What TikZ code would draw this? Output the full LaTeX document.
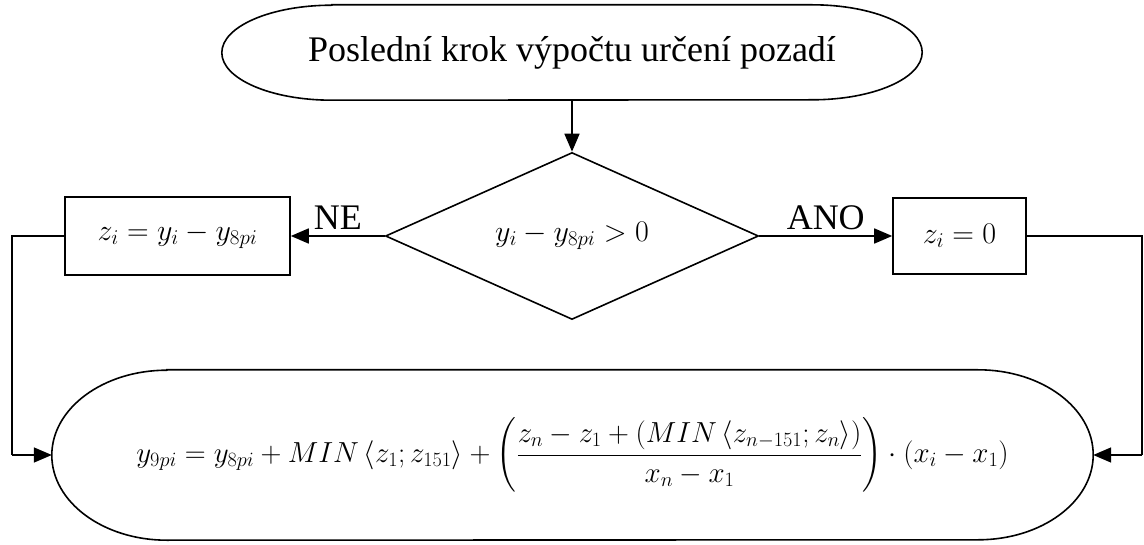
\RequirePackage{fix-cm}
\documentclass[tikz,border=0pt]{standalone}
\usepackage{amsmath}
\usepackage{fontspec}
\setmainfont{Liberation Serif}
\usepackage{tikz}
\usetikzlibrary{arrows.meta,shapes.geometric}

% outline with elliptic ends round a node: name, x radius, y radius
\newcommand{\ovaloutline}[3]{%
  \draw[line width=1.6pt] ([xshift=#2]#1.north west) -- ([xshift=-#2]#1.north east)
    arc[start angle=90, end angle=-90, x radius=#2, y radius=#3]
    -- ([xshift=#2]#1.south west)
    arc[start angle=270, end angle=90, x radius=#2, y radius=#3] -- cycle;}

\begin{document}
\begin{tikzpicture}[
x=1pt, y=-1pt,
font=\fontsize{36}{42}\selectfont,
formula/.style={font=\fontsize{30}{36}\selectfont},
flow/.style={line width=1.6pt,-{Triangle[length=18pt,width=15pt]}},
line/.style={line width=1.6pt},
terminal/.style={inner sep=0pt},
decision/.style={diamond,draw,line width=1.6pt,inner sep=0pt},
process/.style={rectangle,draw,line width=1.6pt,inner sep=0pt,formula}
]
    \useasboundingbox (0,0) rectangle (1144,545);

    % Draw nodes
    \node[terminal, minimum width=700pt, minimum height=95pt] (start) at (572,52.5)
        {Poslední krok výpočtu určení pozadí};
    \ovaloutline{start}{110pt}{47.5pt}

    \node[decision, minimum width=373pt, minimum height=167pt,
        label={[formula]center:$y_i - y_{8pi} > 0$}] (test) at (572,236) {};
    \node[process, minimum width=225pt, minimum height=78pt] (no) at (177.5,236)
        {$z_i = y_i - y_{8pi}$};
    \node[process, minimum width=133pt, minimum height=76pt] (yes) at (959.5,236)
        {$z_i = 0$};

    \node[terminal, formula, font=\fontsize{29}{35}\selectfont,
        minimum width=1041pt, minimum height=170pt] (final) at (572.5,455)
        {$y_{9pi} = y_{8pi} + MIN\left\langle z_1; z_{151}\right\rangle
        + \left(\dfrac{z_n - z_1 + \left(MIN\left\langle z_{n-151}; z_n\right\rangle\right)}{x_n - x_1}\right)
        \cdot\left(x_i - x_1\right)$};
    \ovaloutline{final}{115pt}{85pt}

    \coordinate (lft) at (12,455);
    \coordinate (rgt) at (1142,455);

    % Draw connectors
    \draw[flow] (start.south) -- (test.north);
    \draw[flow] (test.west) -- node[above, yshift=2pt]{NE} (no.east);
    \draw[flow] (test.east) -- node[above, yshift=2pt]{ANO} (yes.west);
    \draw[line] (no.west) -| (lft);
    \draw[flow] (lft) -- (final.west);
    \draw[line] (yes.east) -| (rgt);
    \draw[flow] (rgt) -- (final.east);

\end{tikzpicture}
\end{document}
